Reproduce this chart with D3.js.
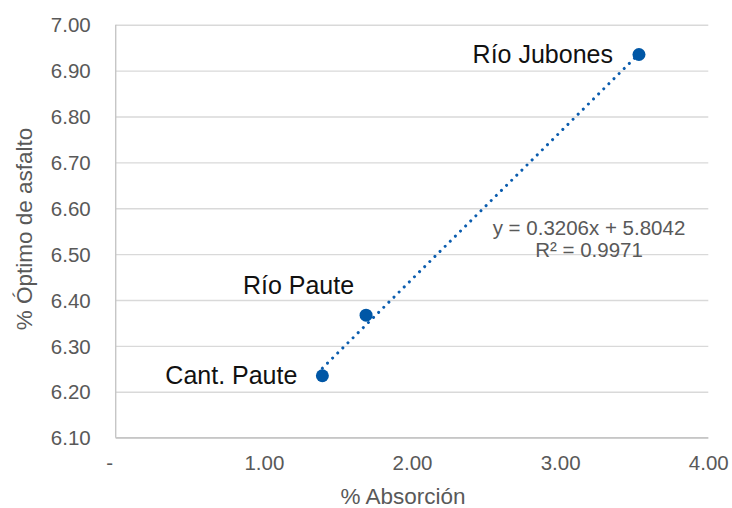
<!DOCTYPE html>
<html>
<head>
<meta charset="utf-8">
<script src="https://cdn.jsdelivr.net/npm/d3@7"></script>
<style>
  html, body { margin: 0; padding: 0; background: #fff; }
  svg { display: block; font-family: "Liberation Sans", Arial, sans-serif; }
</style>
</head>
<body>
<svg id="chart" width="732" height="508"></svg>
<script>
// Aggregate sources: absorption (%) vs optimum asphalt content (%)
const names = ["Cant. Paute", "Río Paute", "Río Jubones"];
const absorption = [1.395, 1.69, 3.532];
const optimumAsphalt = [6.235, 6.367, 6.935];

// Linear trend shown on the chart
const trendSlope = 0.3206;
const trendIntercept = 5.8042;
const trendR2 = 0.9971;

// Axis ticks
const xTicks = [0, 1, 2, 3, 4];
const xTickLabels = ["-", "1.00", "2.00", "3.00", "4.00"];
const yTicks = [6.1, 6.2, 6.3, 6.4, 6.5, 6.6, 6.7, 6.8, 6.9, 7.0];
const yTickLabels = ["6.10", "6.20", "6.30", "6.40", "6.50", "6.60", "6.70", "6.80", "6.90", "7.00"];

const xTitle = "% Absorción";
const yTitle = "% Óptimo de asfalto";

// Layout
const plot = { left: 115.7, right: 708.3, top: 24.7, bottom: 437.7 };
const labelOffset = {
  "Cant. Paute": { dx: -25, dy: 8.5, anchor: "end" },
  "Río Paute": { dx: -12, dy: -21, anchor: "end" },
  "Río Jubones": { dx: -26, dy: 8.5, anchor: "end" }
};

const svg = d3.select("#chart");

const x = d3.scaleLinear().domain([0, 4]).range([plot.left, plot.right]);
const y = d3.scaleLinear().domain([6.1, 7.0]).range([plot.bottom, plot.top]);

// Horizontal gridlines with y tick labels
const yAxis = d3.axisLeft(y)
  .tickValues(yTicks)
  .tickFormat((d, i) => yTickLabels[i])
  .tickSize(-(plot.right - plot.left))
  .tickPadding(25);

const gy = svg.append("g")
  .attr("transform", `translate(${plot.left},0)`)
  .call(yAxis);
gy.select(".domain").remove();
gy.selectAll(".tick line").attr("stroke", "#d9d9d9").attr("stroke-width", 1.4);
gy.selectAll(".tick text")
  .attr("fill", "#595959")
  .style("font-size", "20.5px")
  .attr("dy", "0.35em");

// Bottom axis
const xAxis = d3.axisBottom(x)
  .tickValues(xTicks)
  .tickFormat((d, i) => xTickLabels[i])
  .tickSize(0)
  .tickPadding(18);

const gx = svg.append("g")
  .attr("transform", `translate(0,${plot.bottom})`)
  .call(xAxis);
gx.select(".domain").remove();
gx.selectAll(".tick text")
  .attr("fill", "#595959")
  .style("font-size", "20.5px")
  .attr("dx", d => d === 0 ? -6.5 : 0);

// Axis lines
svg.append("line")
  .attr("x1", plot.left).attr("x2", plot.left)
  .attr("y1", plot.top).attr("y2", plot.bottom)
  .attr("stroke", "#c6c6c6").attr("stroke-width", 1.4);
svg.append("line")
  .attr("x1", plot.left).attr("x2", plot.right)
  .attr("y1", plot.bottom).attr("y2", plot.bottom)
  .attr("stroke", "#c6c6c6").attr("stroke-width", 1.4);

// Axis titles
svg.append("text")
  .attr("x", 403).attr("y", 504)
  .attr("text-anchor", "middle")
  .attr("fill", "#595959")
  .style("font-size", "22.5px")
  .text(xTitle);

svg.append("text")
  .attr("transform", `translate(32,229) rotate(-90)`)
  .attr("text-anchor", "middle")
  .attr("fill", "#595959")
  .style("font-size", "22.5px")
  .text(yTitle);

// Dotted trendline across the data range
const xMin = d3.min(absorption), xMax = d3.max(absorption);
const trend = [xMin, xMax].map(v => [v, trendSlope * v + trendIntercept]);
svg.append("path")
  .datum(trend)
  .attr("d", d3.line().x(d => x(d[0])).y(d => y(d[1])))
  .attr("fill", "none")
  .attr("stroke", "#0a5cae")
  .attr("stroke-width", 3)
  .attr("stroke-linecap", "round")
  .attr("stroke-dasharray", "0.01 7.2");

// Points
const points = names.map((n, i) => ({ name: n, x: absorption[i], y: optimumAsphalt[i] }));

svg.append("g").selectAll("circle")
  .data(points)
  .join("circle")
  .attr("cx", d => x(d.x))
  .attr("cy", d => y(d.y))
  .attr("r", 6.5)
  .attr("fill", "#0057a6");

// Point labels
svg.append("g").selectAll("text")
  .data(points)
  .join("text")
  .attr("x", d => x(d.x) + labelOffset[d.name].dx)
  .attr("y", d => y(d.y) + labelOffset[d.name].dy)
  .attr("text-anchor", d => labelOffset[d.name].anchor)
  .attr("fill", "#111")
  .style("font-size", "25px")
  .text(d => d.name);

// Trendline equation
const eq = svg.append("text")
  .attr("text-anchor", "middle")
  .attr("fill", "#595959")
  .style("font-size", "20.5px");
eq.append("tspan").attr("x", 589).attr("y", 235)
  .text(`y = ${trendSlope.toFixed(4)}x + ${trendIntercept.toFixed(4)}`);
eq.append("tspan").attr("x", 589).attr("y", 256.5)
  .text(`R² = ${trendR2.toFixed(4)}`);
</script>
</body>
</html>
